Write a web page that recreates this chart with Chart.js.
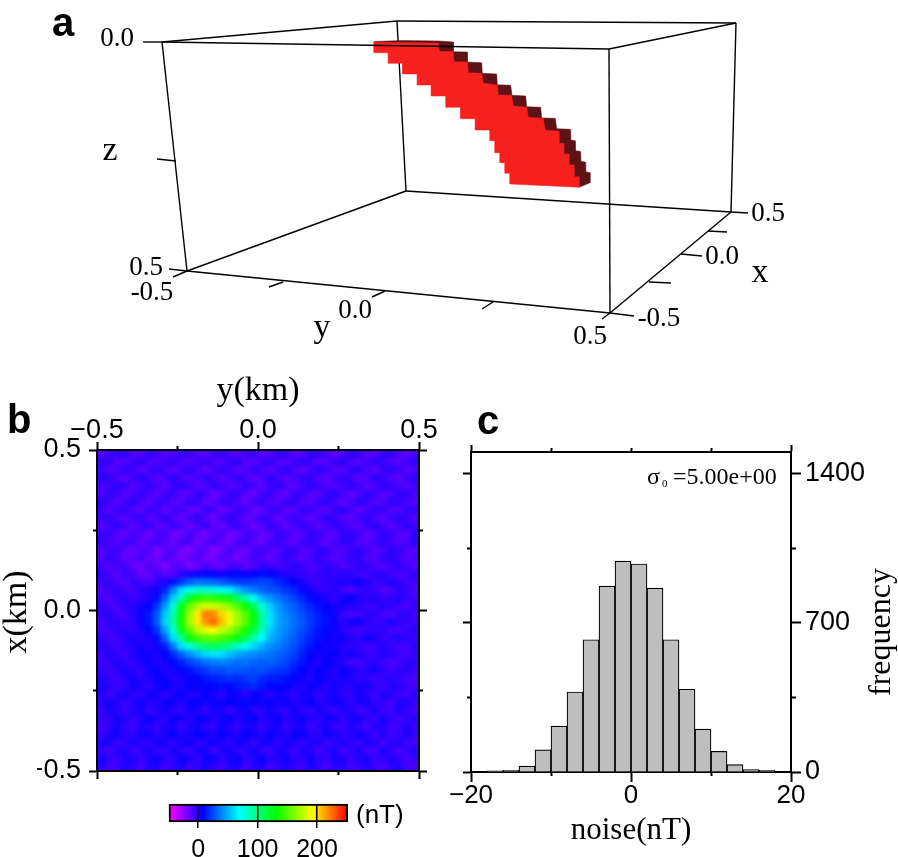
<!DOCTYPE html>
<html>
<head>
<meta charset="utf-8">
<title>Magnetic anomaly model</title>
<script src="https://cdn.jsdelivr.net/npm/chart.js@4/dist/chart.umd.min.js"></script>
<style>
  html, body { margin: 0; padding: 0; background: #fff; }
  body { position: relative; width: 898px; height: 857px; overflow: hidden; }
  canvas { position: absolute; left: 0; top: 0; }
  #heatClip { position: absolute; left: 97px; top: 450px; width: 322px; height: 321px; overflow: hidden; }
  #heatChart { left: -20px; top: -20px; filter: blur(2px); }
</style>
</head>
<body>
<canvas id="boxChart" width="898" height="370"></canvas>
<div id="heatClip"><canvas id="heatChart" width="362" height="361"></canvas></div>
<canvas id="mapAxes" width="898" height="857"></canvas>
<canvas id="histChart" width="898" height="857"></canvas>
<canvas id="barChart" width="898" height="857"></canvas>
<script>
// panel a: projected box
const boxFrontEdges = [
  [[162, 42], [609, 49]], [[609, 49], [736, 23]], [[609, 49], [610, 313]],
  [[187, 271], [610, 313]], [[610, 313], [731, 212]]
];
const boxBackEdges = [
  [[162, 42], [397, 21]], [[397, 21], [736, 23]], [[162, 42], [187, 271]], [[736, 23], [731, 212]],
  [[397, 21], [406, 191]], [[187, 271], [406, 191]], [[406, 191], [731, 212]]
];
const boxTicks = [
  [[143, 42], [162, 42]], [[157, 159], [176, 161]], [[169, 269], [187, 271]],
  [[173, 277], [187, 271]], [[269, 287], [283, 282]], [[372, 297], [385, 291]], [[482, 309], [493, 302]], [[602, 319], [610, 313]],
  [[610, 313], [634, 316]], [[649, 282], [671, 283]], [[681, 254], [702, 256]], [[708, 231], [727, 232]], [[731, 212], [748, 213]]
];
const bodyFront = [
  [374, 42], [374, 52.7], [388.3, 52.7], [388.3, 63.3], [402.7, 63.3], [402.7, 74], [417.3, 74], [417.3, 85], [431.3, 85], [431.3, 96],
  [446, 96], [446, 107.3], [460.7, 107.3], [460.7, 118.7], [475.3, 118.7], [475.3, 130], [490, 130], [490, 140.7], [495, 140.7], [495, 152.7],
  [500, 152.7], [500, 162.7], [505, 162.7], [505, 173.3], [510, 173.3], [510, 184], [579.3, 187.3], [579.3, 176.7], [574.3, 176.7], [574.3, 165],
  [569.3, 165], [569.3, 154], [564, 154], [564, 143.3], [559.3, 143.3], [559.3, 131.3], [545, 130], [543.3, 118.3], [528.3, 117.3], [526.7, 107.3],
  [513.3, 106], [511.7, 95.3], [498.3, 95], [497.3, 85], [483.3, 83.3], [481.7, 73.3], [468.3, 72.7], [467.3, 62], [454, 61.7], [453.3, 51.7],
  [439.3, 51.3], [438.3, 42.7]
];
const bodyBack = [
  [374, 41.5], [403, 40.5], [439.3, 41], [453.3, 42], [453.3, 51.7], [467.3, 52], [467.3, 62], [481.7, 62.7], [482.3, 73.3], [496.7, 74],
  [497.3, 84.7], [510.7, 85.3], [512, 95.3], [525.7, 96], [526.7, 106.7], [540.7, 107.3], [541.7, 118], [555.3, 118.3], [556.7, 128.7], [570, 129.3],
  [570.7, 140], [575, 140.7], [575.3, 150.7], [580, 151.3], [580.7, 161.3], [585, 162], [585.7, 171.7], [590, 172.7], [590, 182.7], [579.3, 187.3]
];
const boxLabels = [
  ['a', 63, 36, 'bold 40px "Liberation Sans"'],
  ['0.0', 117, 46, '27px "Liberation Serif"'],
  ['z', 110, 160, '34px "Liberation Serif"'],
  ['0.5', 146, 275, '27px "Liberation Serif"'],
  ['-0.5', 152, 300, '27px "Liberation Serif"'],
  ['y', 322, 337, '34px "Liberation Serif"'],
  ['0.0', 355, 318, '27px "Liberation Serif"'],
  ['0.5', 590, 344, '27px "Liberation Serif"'],
  ['-0.5', 659, 326, '27px "Liberation Serif"'],
  ['x', 760, 282, '34px "Liberation Serif"'],
  ['0.0', 722, 264, '27px "Liberation Serif"'],
  ['0.5', 768, 221, '27px "Liberation Serif"']
];

// panel b: field in nT, rows run from x = +0.5 down to x = -0.5
const heatRows = [
  [-12,-8,-3,-3,-11,-12,-4,-5,-12,-11,-3,-4,-11,-13,-6,-3,-8,-13,-7,-4,-12,-11,-3,-4,-12,-12,-4,-3,-7,-14,-10,-2,-4,-12,-12,-4,-2,-8,-14,-9],
  [-3,-4,-12,-11,-5,-2,-9,-12,-6,-3,-10,-13,-7,-4,-9,-12,-5,-2,-11,-13,-6,-3,-10,-12,-7,-3,-5,-13,-12,-6,-2,-9,-12,-8,-3,-4,-11,-13,-6,-2],
  [-6,-11,-9,-3,-6,-13,-8,-2,-8,-14,-7,-2,-8,-15,-10,-3,-6,-14,-11,-3,-7,-14,-7,-2,-8,-14,-9,-2,-4,-11,-13,-5,-2,-8,-14,-7,-2,-6,-12,-11],
  [-2,-3,-10,-13,-7,-1,-7,-13,-9,-2,-8,-12,-9,-3,-7,-13,-8,-3,-9,-14,-9,-2,-8,-13,-9,-4,-3,-11,-14,-8,-3,-6,-13,-10,-2,-5,-10,-14,-8,-3],
  [-9,-7,-2,-5,-12,-8,-3,-9,-13,-6,-2,-7,-13,-10,-3,-6,-12,-10,-3,-8,-14,-7,-3,-9,-14,-8,-2,-5,-10,-13,-7,-2,-7,-14,-9,-2,-4,-10,-13,-7],
  [-10,-4,-5,-13,-10,-3,-8,-14,-6,-5,-14,-13,-4,-7,-16,-12,-4,-5,-13,-16,-7,-4,-12,-14,-5,-4,-11,-13,-5,-2,-7,-14,-10,-3,-5,-12,-11,-3,-3,-9],
  [-2,-6,-12,-8,-2,-9,-13,-5,-4,-13,-12,-4,-5,-14,-13,-5,-4,-10,-15,-7,-3,-11,-13,-5,-3,-12,-13,-5,-2,-7,-14,-10,-3,-5,-12,-11,-3,-3,-9,-13],
  [-7,-12,-6,-4,-12,-13,-5,-7,-15,-9,-6,-15,-14,-6,-8,-17,-12,-5,-7,-16,-15,-6,-5,-13,-13,-4,-4,-11,-13,-6,-2,-7,-14,-10,-3,-4,-11,-12,-4,-3],
  [-4,-3,-10,-13,-5,-4,-13,-10,-3,-9,-15,-8,-3,-11,-16,-8,-3,-7,-15,-12,-4,-7,-15,-9,-3,-8,-14,-9,-2,-4,-11,-13,-6,-2,-9,-13,-7,-2,-6,-12],
  [-13,-8,-2,-8,-14,-7,-4,-13,-12,-4,-10,-16,-9,-4,-13,-16,-7,-4,-11,-17,-11,-4,-8,-15,-9,-3,-7,-14,-9,-3,-4,-11,-13,-6,-2,-8,-13,-8,-2,-6],
  [-5,-5,-11,-14,-8,-11,-17,-10,-8,-17,-16,-9,-14,-20,-11,-9,-18,-16,-7,-9,-15,-13,-5,-5,-12,-12,-4,-4,-11,-13,-5,-2,-7,-13,-10,-3,-4,-11,-12,-4],
  [-3,-9,-13,-7,-6,-15,-11,-6,-12,-17,-9,-9,-18,-12,-7,-13,-18,-9,-6,-13,-17,-9,-4,-9,-14,-8,-3,-7,-14,-9,-3,-4,-11,-13,-6,-2,-7,-13,-9,-2],
  [-13,-8,-5,-12,-17,-11,-11,-21,-15,-10,-18,-22,-12,-13,-23,-17,-9,-14,-17,-9,-6,-11,-12,-5,-4,-10,-11,-4,-3,-10,-12,-5,-2,-7,-13,-8,-3,-4,-10,-12],
  [-11,-4,-7,-15,-13,-8,-15,-18,-10,-13,-21,-14,-10,-19,-19,-10,-13,-20,-13,-7,-10,-15,-9,-3,-8,-13,-8,-2,-7,-13,-9,-3,-3,-10,-12,-5,-2,-7,-13,-8],
  [-7,-12,-8,-7,-15,-18,-10,-15,-22,-13,-11,-21,-18,-9,-14,-17,-10,-8,-14,-11,-4,-5,-8,-7,-2,-5,-9,-7,-2,-5,-11,-9,-3,-3,-9,-12,-6,-2,-7,-12],
  [-3,-9,-12,-6,-9,-17,-14,-7,-12,-11,-2,3,6,9,7,4,7,9,6,8,11,9,4,1,-1,-4,-7,-5,-1,-3,-2,-2,-6,-7,-2,-2,-6,-9,-7,-3],
  [-6,-4,-10,-11,-5,-7,-10,-3,2,11,20,30,36,34,33,29,25,22,21,23,25,23,17,12,7,2,-3,-6,-2,-1,1,0,4,0,-5,-4,0,-3,-7,-7],
  [-11,-6,-3,-8,-8,-2,1,5,17,40,62,74,80,82,78,74,66,54,45,38,32,28,26,21,16,10,4,-1,-4,-1,-7,-10,-5,-2,-5,-10,-9,-3,-4,-10],
  [-8,-10,-5,-2,-6,-3,2,11,31,57,88,124,138,143,140,136,126,108,90,70,52,44,36,30,24,16,10,6,1,-3,4,7,1,-3,0,-5,-3,0,-5,-7],
  [-3,-8,-9,-3,-1,3,8,21,46,78,124,154,172,182,180,173,165,150,132,108,80,58,45,36,31,23,16,11,7,2,3,0,-1,-5,-6,-1,-2,-7,-9,-5],
  [-5,-2,-7,-7,0,4,13,29,57,88,133,167,196,222,219,202,186,168,150,128,92,62,48,39,33,27,20,15,10,5,-5,-9,-7,-2,-3,-8,-10,-5,-2,-7],
  [-8,-3,-2,-6,-3,5,14,29,60,93,135,170,196,216,226,207,188,170,152,130,95,64,49,42,35,29,21,16,11,6,-1,3,5,-1,-4,-4,2,-2,-5,-6],
  [-7,-7,-2,-2,-3,2,9,21,47,80,121,152,174,187,191,178,168,152,136,114,85,58,46,40,33,27,19,13,9,5,-1,-4,-8,-5,-1,-3,-8,-9,-5,-2],
  [-2,-7,-6,-1,2,-1,3,11,32,62,92,127,143,151,153,147,140,126,110,90,68,52,44,37,30,23,16,11,6,3,5,0,-3,4,1,-5,-4,1,-2,-5],
  [-1,-3,-7,-4,1,3,0,5,15,37,62,77,94,106,109,104,94,82,72,60,50,43,38,33,27,19,13,7,4,5,1,-2,-3,-7,-4,0,-4,-8,-8,-3],
  [-5,0,-4,-6,0,4,3,1,7,17,31,41,51,59,63,61,54,48,44,42,38,36,32,28,23,15,9,3,6,7,1,4,1,-4,-5,0,-1,-6,-8,-4],
  [-7,-4,1,-3,-3,2,5,1,3,9,15,23,29,34,37,39,37,34,36,32,30,32,28,25,17,13,4,1,7,4,-2,-7,-8,-4,-1,-5,-10,-8,-3,-4],
  [-3,-6,-3,2,-2,-3,4,6,1,3,7,11,17,21,27,25,29,28,28,26,28,23,21,19,13,8,2,6,5,0,6,3,-2,0,3,-3,-6,-2,-1,-6],
  [1,-4,-6,0,3,-2,1,6,5,0,4,6,9,13,15,17,19,17,21,23,17,15,15,11,9,4,0,7,3,1,3,2,-3,-2,-6,-4,-1,-4,-8,-8],
  [2,-1,-5,-3,4,2,-3,3,7,2,1,7,6,7,9,11,9,13,15,17,13,9,9,7,3,1,6,5,-1,3,1,-1,3,3,-3,-6,-1,-1,-6,-8],
  [0,-6,-1,3,-2,-4,4,3,-3,2,6,0,0,7,2,-2,6,4,-2,5,4,-3,5,3,-3,3,3,-4,0,4,-2,-3,3,0,-6,0,0,-6,-7,-2],
  [-2,3,0,-5,0,5,0,-1,6,5,-1,5,8,3,6,5,8,6,9,7,5,7,3,6,0,3,7,0,0,6,2,-3,2,4,-3,-3,-6,-1,1,-5],
  [-5,2,0,-6,0,3,-5,0,4,-2,-3,4,1,-5,3,3,-5,1,5,-3,-2,4,-1,-3,4,-2,-5,2,-1,-7,0,1,-7,-4,2,-5,-7,0,-3,-8],
  [-5,-4,3,1,-5,0,6,1,-2,6,4,-2,5,7,-1,3,7,0,4,7,0,2,6,0,1,6,1,-3,3,4,-4,1,4,-3,-5,2,-3,-7,-3,-1],
  [-8,-3,3,-3,-6,2,-1,-6,2,2,-5,0,4,-3,-3,4,0,-5,3,1,-5,1,3,-5,1,2,-6,-2,2,-5,-6,1,-3,-8,-1,0,-7,-6,1,-5],
  [-6,1,4,-2,-4,3,4,-2,2,7,1,1,8,5,1,7,3,1,7,4,0,7,3,-1,5,6,0,-2,6,3,-3,-1,5,0,-5,0,-6,-4,1,-4],
  [1,2,-5,-4,3,-1,-4,4,2,-4,2,5,-3,0,6,0,-3,5,2,-4,3,3,-4,3,2,-5,1,1,-6,-2,2,-3,-6,1,0,-7,-2,0,-6,-8],
  [-5,-9,0,1,-7,-3,2,-5,-5,3,-2,-6,2,2,-6,0,3,-5,-2,3,-3,-6,3,0,-6,1,0,-8,-2,1,-8,-4,1,-7,-8,1,-3,-9,-5,0],
  [3,-3,-6,1,2,-5,1,5,-1,-3,6,3,-4,4,5,-3,2,6,-2,0,6,0,0,5,-2,-2,4,-2,-5,2,1,-5,0,2,-5,-4,1,-3,-8,-5],
  [0,-8,-6,2,-3,-8,1,0,-8,-1,2,-7,-3,3,-2,-7,1,1,-8,-1,2,-8,-3,2,-3,-7,2,-3,-9,-1,0,-8,-6,1,-5,-9,-3,1,-8,-8]
];
const colorValues = [-52, 8, 69, 131, 192, 250];
const colorRgb = [[255, 0, 255], [0, 0, 255], [0, 255, 255], [0, 255, 0], [255, 255, 0], [255, 0, 0]];
const colorbarRange = [-49, 251.5];
const colorbarTicks = [0, 100, 200];

// panel c: noise histogram
const histCenters = [-17, -15, -13, -11, -9, -7, -5, -3, -1, 1, 3, 5, 7, 9, 11, 13, 15, 17];
const histCounts = [6, 8, 28, 104, 215, 375, 620, 871, 989, 975, 862, 620, 388, 201, 97, 35, 11, 8];

const SANS = '"Liberation Sans"';
const SERIF = '"Liberation Serif"';

Chart.defaults.animation = false;
Chart.defaults.responsive = false;
Chart.defaults.plugins.legend.display = false;
Chart.defaults.plugins.tooltip.enabled = false;

const textPlugin = (items) => ({
  id: 'pageText',
  afterDraw(chart) {
    const ctx = chart.ctx;
    items.forEach(([text, x, y, font, rot, align]) => {
      ctx.save();
      ctx.translate(x, y);
      if (rot) ctx.rotate(rot);
      ctx.font = font;
      ctx.fillStyle = '#000';
      ctx.textAlign = align || 'center';
      ctx.textBaseline = 'alphabetic';
      ctx.fillText(text, 0, 0);
      ctx.restore();
    });
  }
});

// one side of a GMT style frame; size 0 is used for the short ticks
const gmtAxis = (position, min, max, values, tickLength, size, labels, padding, font) => ({
  type: 'linear',
  position,
  min,
  max,
  offset: false,
  weight: size ? 1 : 0,
  afterBuildTicks: (s) => { s.ticks = values.map((v) => ({ value: v })); },
  afterFit: (s) => { if (s.isHorizontal()) s.height = size; else s.width = size; },
  grid: { offset: false, drawOnChartArea: false, tickLength, tickWidth: 2, tickColor: '#000' },
  border: { color: '#000', width: 2 },
  ticks: {
    display: !!labels,
    autoSkip: false,
    maxRotation: 0,
    padding: padding || 0,
    color: '#000',
    font: font || { family: 'Liberation Sans', size: 27 },
    callback: (v) => (labels ? labels[values.indexOf(v)] : '')
  }
});

const colorFor = (v) => {
  let i = 0;
  while (i < colorValues.length - 2 && v > colorValues[i + 1]) i++;
  const t = Math.min(1, Math.max(0, (v - colorValues[i]) / (colorValues[i + 1] - colorValues[i])));
  const c = colorRgb[i].map((a, k) => Math.round(a + (colorRgb[i + 1][k] - a) * t));
  return `rgb(${c[0]},${c[1]},${c[2]})`;
};

// panel a
const segment = (pts, width) => ({
  data: pts.map(([x, y]) => ({ x, y })),
  showLine: true, borderColor: '#000', borderWidth: width, pointRadius: 0, clip: false
});
const polygon = (pts, color) => ({
  data: pts.map(([x, y]) => ({ x, y })),
  showLine: true, borderColor: color, borderWidth: 0.5, backgroundColor: color, fill: 'shape', pointRadius: 0
});
new Chart(document.getElementById('boxChart'), {
  type: 'scatter',
  data: {
    datasets: [
      ...boxFrontEdges.map((p) => segment(p, 1.4)),
      ...boxTicks.map((p) => segment(p, 1.4)),
      polygon(bodyFront, '#f6201f'),
      polygon(bodyBack, '#5d1216'),
      ...boxBackEdges.map((p) => segment(p, 1.4))
    ]
  },
  options: {
    layout: { padding: 0 },
    plugins: { filler: { drawTime: 'beforeDatasetDraw' } },
    scales: {
      x: { type: 'linear', display: false, min: 0, max: 898 },
      y: { type: 'linear', display: false, min: 0, max: 370, reverse: true }
    }
  },
  plugins: [textPlugin(boxLabels)]
});

// panel b raster, blurred as one canvas so the cells read as a smooth grid
const heatPoints = [];
const heatColors = [];
heatRows.forEach((row, r) => {
  row.forEach((v, c) => {
    heatPoints.push({ x: -0.4875 + c * 0.025, y: 0.4875 - r * 0.025 });
    heatColors.push(colorFor(v));
  });
});
new Chart(document.getElementById('heatChart'), {
  type: 'scatter',
  data: {
    datasets: [{
      data: heatPoints,
      pointStyle: 'rect',
      pointRadius: 6.2,
      pointBorderWidth: 0,
      pointBackgroundColor: heatColors,
      clip: false
    }]
  },
  options: {
    layout: { padding: 20 },
    scales: {
      x: { type: 'linear', display: false, min: -0.5, max: 0.5 },
      y: { type: 'linear', display: false, min: -0.5, max: 0.5 }
    }
  },
  plugins: [{
    id: 'heatBack',
    beforeDraw(chart) {
      chart.ctx.fillStyle = colorFor(-5);
      chart.ctx.fillRect(0, 0, chart.width, chart.height);
    }
  }]
});

// panel b frame
const MAP_MAJOR = [-0.5, 0, 0.5];
const MAP_MINOR = [-0.25, 0.25];
const MAP_TOP_LABELS = ['\u22120.5', '0.0', '0.5'];
const MAP_LEFT_LABELS = ['\u22120.5', '0.0', '0.5'];
new Chart(document.getElementById('mapAxes'), {
  type: 'scatter',
  data: { datasets: [] },
  options: {
    layout: { padding: { left: 37, right: 459, top: 405, bottom: 66 } },
    scales: {
      x: gmtAxis('bottom', -0.5, 0.5, MAP_MAJOR, 8, 20),
      y: gmtAxis('left', -0.5, 0.5, MAP_MAJOR, 8, 60, MAP_LEFT_LABELS, 8),
      xTop: gmtAxis('top', -0.5, 0.5, MAP_MAJOR, 8, 45, MAP_TOP_LABELS, -5),
      yRight: gmtAxis('right', -0.5, 0.5, MAP_MAJOR, 8, 20),
      xMinorB: gmtAxis('bottom', -0.5, 0.5, MAP_MINOR, 4, 0),
      xMinorT: gmtAxis('top', -0.5, 0.5, MAP_MINOR, 4, 0),
      yMinorL: gmtAxis('left', -0.5, 0.5, MAP_MINOR, 4, 0),
      yMinorR: gmtAxis('right', -0.5, 0.5, MAP_MINOR, 4, 0)
    }
  },
  plugins: [textPlugin([
    ['b', 7, 433, 'bold 40px ' + SANS, 0, 'left'],
    ['y(km)', 258, 400, '34px ' + SERIF],
    ['x(km)', 26, 612, '34px ' + SERIF, -Math.PI / 2]
  ])]
});

// panel c
const HIST_MAX = 1500;
new Chart(document.getElementById('histChart'), {
  type: 'bar',
  data: {
    datasets: [{
      data: histCenters.map((x, i) => ({ x, y: histCounts[i] })),
      barThickness: 16,
      backgroundColor: '#bebebe',
      borderColor: '#000',
      borderWidth: 1.2
    }]
  },
  options: {
    layout: { padding: { left: 441, right: 7, top: 432, bottom: 35 } },
    scales: {
      x: gmtAxis('bottom', -20, 20, [-20, 0, 20], 10, 50, ['\u221220', '0', '20'], -2, { family: 'Liberation Sans', size: 26 }),
      y: gmtAxis('left', 0, HIST_MAX, [0, 700, 1400], 8, 30),
      xTop: gmtAxis('top', -20, 20, [-20, 20], 7, 20),
      yRight: gmtAxis('right', 0, HIST_MAX, [0, 700, 1400], 10, 100, ['0', '700', '1400'], 4),
      xMinorB: gmtAxis('bottom', -20, 20, [-10, 10], 4, 0),
      xMinorT: gmtAxis('top', -20, 20, [-10, 0, 10], 4, 0),
      yMinorL: gmtAxis('left', 0, HIST_MAX, [350, 1050], 4, 0),
      yMinorR: gmtAxis('right', 0, HIST_MAX, [350, 1050], 5, 0)
    }
  },
  plugins: [textPlugin([
    ['c', 477, 434, 'bold 40px ' + SANS, 0, 'left'],
    ['\u03c3', 647, 484, '24px ' + SERIF, 0, 'left'],
    ['0', 662, 487, '11px ' + SERIF, 0, 'left'],
    ['=5.00e+00', 673, 484, '24px ' + SERIF, 0, 'left'],
    ['noise(nT)', 631, 839, '31px ' + SERIF],
    ['frequency', 890, 632, '32px ' + SERIF, -Math.PI / 2]
  ])]
});

// colour bar
new Chart(document.getElementById('barChart'), {
  type: 'bar',
  data: {
    labels: ['nT'],
    datasets: [{
      data: [colorbarRange],
      barPercentage: 1,
      categoryPercentage: 1,
      clip: 4,
      borderWidth: 2,
      borderColor: '#000',
      borderSkipped: false,
      backgroundColor: (c) => {
        const { chart } = c;
        if (!chart.chartArea) return '#00f';
        const xs = chart.scales.x;
        const x0 = xs.getPixelForValue(colorbarRange[0]);
        const x1 = xs.getPixelForValue(colorbarRange[1]);
        const g = chart.ctx.createLinearGradient(x0, 0, x1, 0);
        colorValues.forEach((v) => {
          const s = Math.min(1, Math.max(0, (v - colorbarRange[0]) / (colorbarRange[1] - colorbarRange[0])));
          g.addColorStop(s, colorFor(v));
        });
        return g;
      }
    }]
  },
  options: {
    indexAxis: 'y',
    layout: { padding: { left: 169, right: 550.3, top: 804, bottom: 0 } },
    scales: {
      x: {
        type: 'linear',
        position: 'bottom',
        min: colorbarRange[0],
        max: colorbarRange[1],
        afterBuildTicks: (s) => { s.ticks = colorbarTicks.map((v) => ({ value: v })); },
        afterFit: (s) => { s.height = 35; },
        grid: { z: 1, color: '#000', lineWidth: 1.5, tickLength: 6, tickColor: '#000', tickWidth: 1.5 },
        border: { display: false },
        ticks: { padding: 7, color: '#000', maxRotation: 0, autoSkip: false, font: { family: 'Liberation Sans', size: 25 } }
      },
      y: { type: 'category', display: false }
    }
  },
  plugins: [textPlugin([['(nT)', 356, 823, '26px ' + SANS, 0, 'left']])]
});
</script>
</body>
</html>
